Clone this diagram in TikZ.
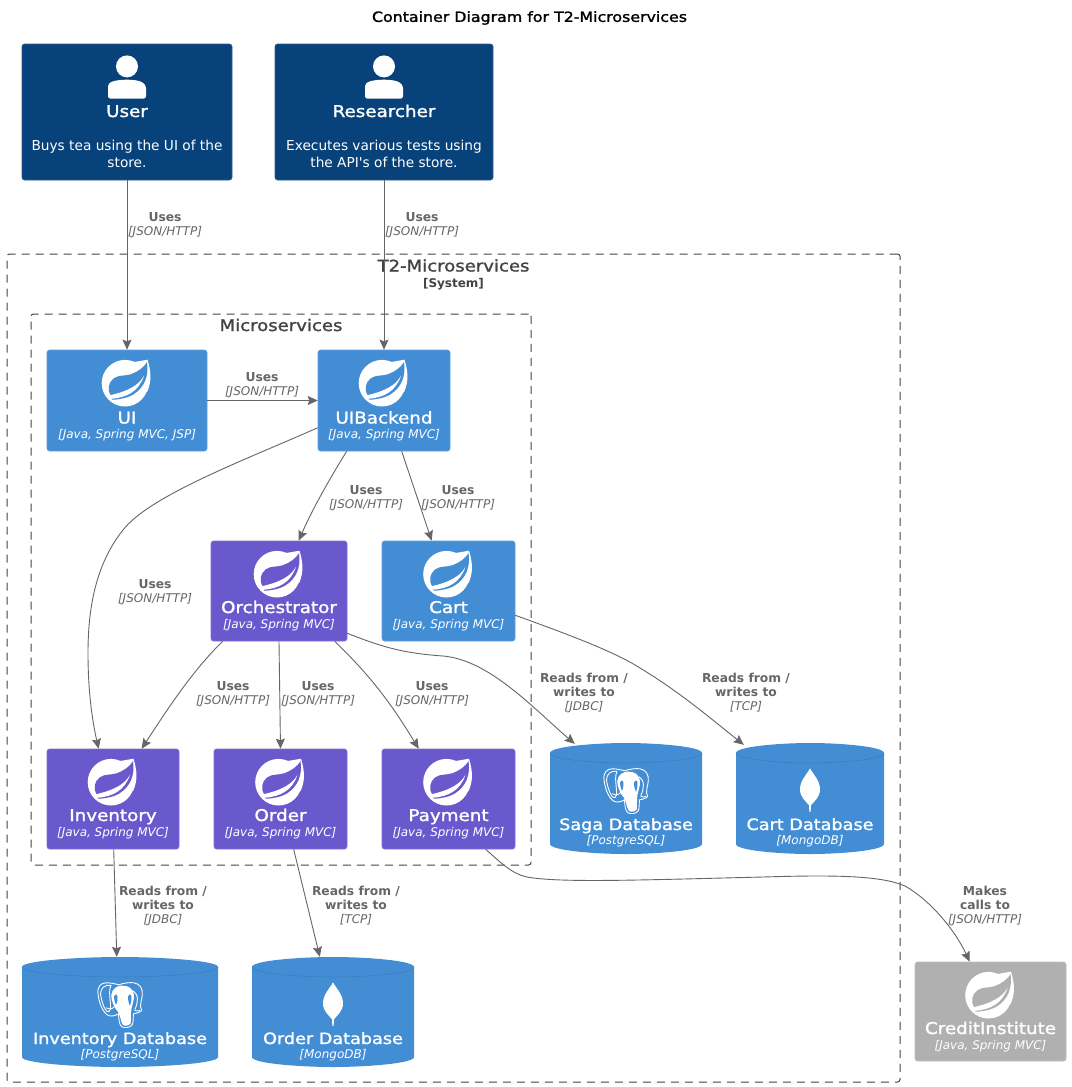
\documentclass[tikz,border=0pt]{standalone}
\usepackage{fontspec}
\usetikzlibrary{arrows.meta}
\setmainfont{DejaVu Sans}
\newfontfamily\dvfake[FakeStretch=1.13,FakeBold=1.4]{DejaVu Sans}
\definecolor{navy}{HTML}{08427B}
\definecolor{cblue}{HTML}{438DD5}
\definecolor{cpurple}{HTML}{6A59CD}
\definecolor{cgrey}{HTML}{B0B0B0}
\definecolor{lnk}{HTML}{666666}
\definecolor{bnd}{HTML}{444444}
\newcommand\fname{\dvfake\fontsize{16.2}{16}\selectfont}
\newcommand\fdbname{\dvfake\fontsize{15.6}{16}\selectfont}
\newcommand\ftech{\itshape\fontsize{12}{12}\selectfont}
\newcommand\fdesc{\fontsize{13.7}{14}\selectfont}
\newcommand\stk[2]{\vbox to #1pt{\hsize=0pt\offinterlineskip #2\vss}}
\newcommand\tline[2]{\vskip #1pt\centerline{\smash{#2}}}
\newcommand\nametech[4]{\tline{#1}{\fname #3}\tline{#2}{\ftech #4}}
\newcommand\springicon[2]{%
 \begin{scope}[shift={(#1.north)},xshift=-2pt,yshift=-33.5pt]
  \fill[white] (0,0) circle (23.3);
  \fill[white] (22.5,-23.5) .. controls (26,-12) and (27,-2) .. (22,9) -- (0,0) -- (8,-21) -- cycle;
  \fill[#2] (-14,13) .. controls (-18,7) and (-17,-1) .. (-11,-5) .. controls (-6,-8.5) and (0,-7) .. (6,-9) .. controls (13,-11.5) and (19,-16) .. (22,-21) .. controls (24,-8) and (20,4) .. (8,11.5) .. controls (3,14.5) and (-6,16.5) .. (-13,16.5) -- cycle;
  \fill[white] (-14,15.6) .. controls (2,14.5) and (14,8) .. (19,-7.5) .. controls (14,2) and (3,8) .. (-15,12) -- cycle;
  \fill[white] (-14.5,14.5) circle (1.6);
 \end{scope}}
\newcommand\personicon[1]{%
 \begin{scope}[shift={(#1.north)}]
  \fill[white] (0,22.7) circle (11);
  \fill[white] (-19,55) [rounded corners=2.5pt] -- (-19,45) [rounded corners=0pt] .. controls (-19,38) and (-11,36) .. (0,36) .. controls (11,36) and (19,38) .. (19,45) [rounded corners=2.5pt] -- (19,55) -- cycle;
 \end{scope}}
\newcommand\pgicon[1]{%
 \begin{scope}[shift={(#1.north)},yshift=-47pt]
  \draw[white,line width=.9,line join=round] (-22,-10) .. controls (-23,-17) and (-19,-21) .. (-14,-21) .. controls (-9,-21) and (-5,-20) .. (-1,-19) .. controls (4,-21) and (10,-21.5) .. (14,-21) .. controls (20,-20) and (23,-15) .. (22.3,-9) .. controls (22,-4) and (20,-1) .. (20.5,3) .. controls (21,5) and (22,5) .. (21.7,6.5) .. controls (20,9) and (16,9.5) .. (13.5,10) .. controls (13,14) and (13.5,18) .. (12.3,21) .. controls (10,24) and (5,24.5) .. (2,23) .. controls (-1,21) and (-1,16) .. (-1.5,10) .. controls (-5,12) and (-9,13) .. (-12,11.5) .. controls (-18,8) and (-21,-2) .. (-22,-10) -- cycle;
  \draw[white,line width=.9,line join=round] (-19.5,-10) .. controls (-19,-16) and (-16,-19) .. (-9,-18.5) .. controls (-12,-12) and (-9,-3) .. (-9.5,5) .. controls (-11,10) and (-14,8) .. (-16,3) .. controls (-18,-2) and (-19,-6) .. (-19.5,-10);
  \fill[white] (-2,8) .. controls (-6,4) and (-9,-4) .. (-8.7,-9) .. controls (-8,-15) and (-3,-18.2) .. (2,-18.2) .. controls (9,-18.2) and (13,-15) .. (14,-9) .. controls (14.5,-3) and (11,3) .. (11,9) .. controls (11,14) and (11,18) .. (10.5,20) .. controls (8,22.5) and (4,22.5) .. (2.5,20.5) .. controls (0.5,17) and (0.5,12) .. (-2,8) -- cycle;
  \fill[cblue] (-6,-7) .. controls (-5,-10) and (-3,-10) .. (-2.5,-7) .. controls (-2.5,-3) and (-3,0) .. (-4,1) .. controls (-5,-1) and (-6,-4) .. (-6,-7) -- cycle;
  \fill[cblue] (8,-7) .. controls (9,-10) and (11,-10) .. (11.5,-7) .. controls (11.5,-3) and (11,0) .. (10,2) .. controls (9,0) and (8,-3) .. (8,-7) -- cycle;
  \draw[white,line width=.9] (13,-13) .. controls (19,-10) and (18,0) .. (15,5) .. controls (14,7) and (17,8) .. (20,6.5);
  \draw[white,line width=.9] (-14,4) .. controls (-9,6) and (-7,5) .. (-4.5,1.5);
 \end{scope}}
\newcommand\mongoicon[1]{%
 \begin{scope}[shift={(#1.north)},yshift=-25.5pt]
  \fill[white] (0,0) .. controls (-3,6) and (-10,12) .. (-10,21) .. controls (-10,29) and (-4,33) .. (-1,37) -- (-.6,43.5) -- (.6,43.5) -- (1,37) .. controls (4,33) and (10,29) .. (10,21) .. controls (10,12) and (3,6) .. (0,0) -- cycle;
 \end{scope}}
\newcommand\dbnode[7]{%
 \begin{scope}[shift={(#2,#3)}]
  \fill[cblue] (0,10) .. controls (0,3.5) and ({#4*.3},0) .. ({#4/2},0) .. controls ({#4*.7},0) and (#4,3.5) .. (#4,10) -- (#4,{#5-10}) .. controls (#4,{#5-3.5}) and ({#4*.7},#5) .. ({#4/2},#5) .. controls ({#4*.3},#5) and (0,{#5-3.5}) .. (0,{#5-10}) -- cycle;
  \draw[dbline] (0,10) .. controls (0,16.5) and ({#4*.3},20) .. ({#4/2},20) .. controls ({#4*.7},20) and (#4,16.5) .. (#4,10);
 \end{scope}
 \node[dbbox,minimum width=#4pt,minimum height=#5pt] (#1) at ({#2+#4/2},{#3+#5/2}) {\stk{#5}{\tline{87}{\fdbname #6}\tline{14.5}{\ftech #7}}};}
\tikzset{
 x=1pt,y=-1pt,
 bound/.style={draw=bnd,line width=1pt,dash pattern=on 8pt off 6pt,rounded corners=2.5pt,inner sep=0pt,anchor=center},
 card/.style={rounded corners=2.5pt,inner sep=0pt,text=white,anchor=center,line width=.6pt},
 navycard/.style={card,fill=navy,draw=navy!85!white},
 bluecard/.style={card,fill=cblue,draw=cblue!85!white},
 purplecard/.style={card,fill=cpurple,draw=cpurple!85!white},
 greycard/.style={card,fill=cgrey,draw=cgrey!85!white},
 dbbox/.style={inner sep=0pt,text=white},
 dbline/.style={draw=cblue!88!black,line width=.5pt},
 conn/.style={draw=lnk,line width=.9pt,-{Stealth[length=10pt,width=9pt,inset=1.5pt]}},
 lab/.style={text=lnk,align=center,inner sep=0pt,font=\fontsize{12}{14}\selectfont},
 titletext/.style={text=black,inner sep=0pt},
}
\newcommand\bl[1]{{\bfseries\fontsize{12.3}{14}\selectfont #1}}
\newcommand\rel[2]{\bl{#1}\\{\itshape #2}}
\begin{document}
\begin{tikzpicture}
\useasboundingbox (0,0) rectangle (1071,1087);
\fill[white] (0,0) rectangle (1071,1087);
\node[titletext] (title) at (529.5,18) {\dvfake\fontsize{14}{14}\selectfont Container Diagram for T2-Microservices};
% boundaries
\node[bound,minimum width=893pt,minimum height=828pt,text=bnd] (system) at (453.5,668) {\stk{828}{\tline{17.5}{\dvfake\fontsize{16}{16}\selectfont T2-Microservices}\tline{16}{\bfseries\fontsize{12}{12}\selectfont [System]}}};
\node[bound,minimum width=500pt,minimum height=551pt,text=bnd] (micro) at (281,589.5) {\stk{551}{\tline{17}{\dvfake\fontsize{16}{16}\selectfont Microservices}}};
% persons
\node[navycard,minimum width=210pt,minimum height=136pt] (user) at (127,112) {\stk{136}{\tline{73}{\fname User}\tline{33}{\fdesc Buys tea using the UI of the}\tline{17}{\fdesc store.}}};
\node[navycard,minimum width=218pt,minimum height=136pt] (researcher) at (384,112) {\stk{136}{\tline{73}{\fname Researcher}\tline{33}{\fdesc Executes various tests using}\tline{17}{\fdesc the API\textquotesingle s of the store.}}};
\personicon{user}
\personicon{researcher}
% containers
\node[bluecard,minimum width=160pt,minimum height=101pt] (ui) at (127,400.5) {\stk{101}{\nametech{73.5}{15}{UI}{[Java, Spring MVC, JSP]}}};
\node[bluecard,minimum width=132pt,minimum height=101pt] (uib) at (384,400.5) {\stk{101}{\nametech{73.5}{15}{UIBackend}{[Java, Spring MVC]}}};
\node[purplecard,minimum width=136pt,minimum height=100pt] (orch) at (279,591) {\stk{100}{\nametech{72}{15}{Orchestrator}{[Java, Spring MVC]}}};
\node[bluecard,minimum width=133pt,minimum height=100pt] (cart) at (448.5,591) {\stk{100}{\nametech{72}{15}{Cart}{[Java, Spring MVC]}}};
\node[purplecard,minimum width=132pt,minimum height=100pt] (inv) at (113,799) {\stk{100}{\nametech{72}{15}{Inventory}{[Java, Spring MVC]}}};
\node[purplecard,minimum width=133pt,minimum height=100pt] (order) at (280.5,799) {\stk{100}{\nametech{72}{15}{Order}{[Java, Spring MVC]}}};
\node[purplecard,minimum width=133pt,minimum height=100pt] (pay) at (448.5,799) {\stk{100}{\nametech{72}{15}{Payment}{[Java, Spring MVC]}}};
\node[greycard,minimum width=151pt,minimum height=99pt] (credit) at (990.5,1011.5) {\stk{99}{\nametech{72}{15}{CreditInstitute}{[Java, Spring MVC]}}};
\springicon{ui}{cblue}
\springicon{uib}{cblue}
\springicon{orch}{cpurple}
\springicon{cart}{cblue}
\springicon{inv}{cpurple}
\springicon{order}{cpurple}
\springicon{pay}{cpurple}
\springicon{credit}{cgrey}
% databases
\dbnode{sagadb}{550}{743}{152}{111}{Saga Database}{[PostgreSQL]}
\dbnode{cartdb}{736}{743}{148}{111}{Cart Database}{[MongoDB]}
\dbnode{invdb}{22}{957}{196}{110}{Inventory Database}{[PostgreSQL]}
\dbnode{orderdb}{252}{957}{162}{110}{Order Database}{[MongoDB]}
\pgicon{sagadb}
\pgicon{invdb}
\mongoicon{cartdb}
\mongoicon{orderdb}
% connectors
\draw[conn] (user.south) -- (ui.north);
\draw[conn] (researcher.south) -- (uib.north);
\draw[conn] (ui.east) -- (uib.west);
\draw[conn] ([yshift=-78pt]uib.north west) .. controls (250,458) and (150,495) .. (123,530) .. controls (95,565) and (88,610) .. (88,653) .. controls (88,690) and (92,720) .. ([xshift=52pt]inv.north west);
\draw[conn] ([xshift=29pt]uib.south west) .. controls (330,478) and (312,510) .. ([xshift=88pt]orch.north west);
\draw[conn] ([xshift=84pt]uib.south west) -- ([xshift=50pt]cart.north west);
\draw[conn] ([xshift=12pt]orch.south west) .. controls (195,668) and (170,705) .. ([xshift=95pt]inv.north west);
\draw[conn] (orch.south) -- (order.north);
\draw[conn] ([xshift=124pt]orch.south west) .. controls (375,680) and (395,710) .. ([xshift=37pt]pay.north west);
\draw[conn] ([yshift=8pt]orch.south east) .. controls (380,646) and (400,653) .. (443,656) .. controls (490,660) and (535,710) .. ([xshift=25pt,yshift=-1pt]sagadb.north west);
\draw[conn] ([yshift=26pt]cart.south east) .. controls (570,635) and (615,652) .. (640,668) .. controls (680,692) and (715,722) .. ([xshift=8pt,yshift=-2pt]cartdb.north west);
\draw[conn] ([xshift=67pt]inv.south west) -- ([xshift=95pt]invdb.north west);
\draw[conn] ([xshift=80pt]order.south west) -- ([xshift=68pt]orderdb.north west);
\draw[conn] ([xshift=104pt]pay.south west) .. controls (500,862) and (512,874) .. (527,877) .. controls (560,883) and (640,880) .. (763,877) .. controls (830,875) and (880,875) .. (905,886) .. controls (930,900) and (955,930) .. ([xshift=55pt]credit.north west);
% labels
\node[lab] (l1) at (165,225) {\rel{Uses}{[JSON/HTTP]}};
\node[lab] (l2) at (422,225) {\rel{Uses}{[JSON/HTTP]}};
\node[lab] (l3) at (262,385) {\rel{Uses}{[JSON/HTTP]}};
\node[lab] (l4) at (155,592) {\rel{Uses}{[JSON/HTTP]}};
\node[lab] (l5) at (366,498) {\rel{Uses}{[JSON/HTTP]}};
\node[lab] (l6) at (458,498) {\rel{Uses}{[JSON/HTTP]}};
\node[lab] (l7) at (233,694) {\rel{Uses}{[JSON/HTTP]}};
\node[lab] (l8) at (318,694) {\rel{Uses}{[JSON/HTTP]}};
\node[lab] (l9) at (432,694) {\rel{Uses}{[JSON/HTTP]}};
\node[lab] (l10) at (584,693) {\bl{Reads from /}\\\bl{writes to}\\{\itshape [JDBC]}};
\node[lab] (l11) at (746,693) {\bl{Reads from /}\\\bl{writes to}\\{\itshape [TCP]}};
\node[lab] (l12) at (163,906) {\bl{Reads from /}\\\bl{writes to}\\{\itshape [JDBC]}};
\node[lab] (l13) at (356,906) {\bl{Reads from /}\\\bl{writes to}\\{\itshape [TCP]}};
\node[lab] (l14) at (985,906) {\bl{Makes}\\\bl{calls to}\\{\itshape [JSON/HTTP]}};
\end{tikzpicture}
\end{document}
